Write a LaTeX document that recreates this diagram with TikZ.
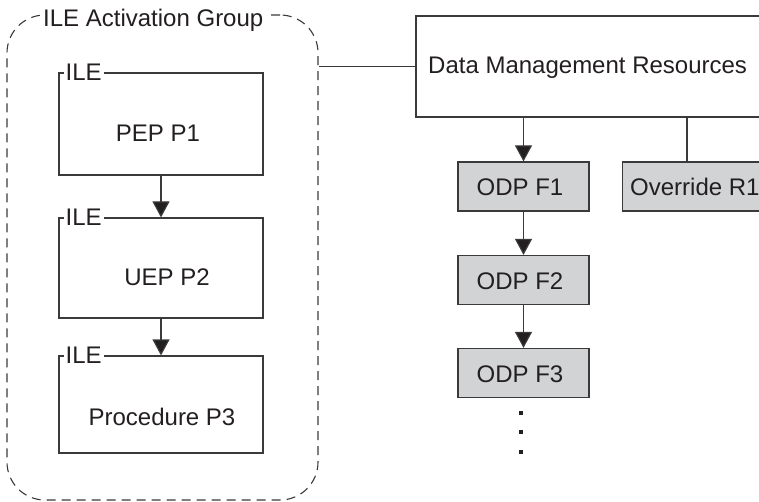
\documentclass[tikz,border=0pt]{standalone}
\usepackage{fontspec}
\setmainfont{Liberation Sans}
\usetikzlibrary{arrows.meta}
\definecolor{ink}{HTML}{231F20}
\definecolor{linec}{HTML}{3A3A3A}
\definecolor{boxfill}{HTML}{D1D3D4}
\tikzset{
  lbl/.style={font=\fontsize{24}{28}\selectfont, text=ink, inner sep=0pt},
  ilebox/.style={draw=linec, line width=1.2pt, minimum width=204pt, inner sep=0pt},
  ilelbl/.style={lbl, fill=white, inner xsep=2pt, inner ysep=1pt, anchor=west},
  odpbox/.style={draw=linec, line width=1.2pt, fill=boxfill, minimum width=131pt, minimum height=49pt, inner sep=0pt},
  arr/.style={draw=linec, line width=1.2pt, -{Triangle[length=16pt,width=17pt,fill=ink]}},
  conn/.style={draw=linec, line width=1.2pt},
}
\begin{document}
\begin{tikzpicture}[x=1pt,y=1pt]
\useasboundingbox (0,0) rectangle (759,-502);
\clip (0,0) rectangle (759,-502);
% activation group
\node[draw=linec, line width=1.1pt, dash pattern=on 9pt off 6pt, rounded corners=38pt,
      minimum width=311pt, minimum height=485pt, inner sep=0pt] (grp) at (162.5,-257.5) {};
\node[lbl, fill=white, inner xsep=3pt, inner ysep=2pt, anchor=west] (grpt) at (40,-20) {ILE Activation Group};
% ILE boxes
\node[ilebox, minimum height=102pt] (b1) at (161,-124) {};
\node[ilebox, minimum height=100pt] (b2) at (161,-268) {};
\node[ilebox, minimum height=97pt] (b3) at (161,-404.5) {};
\node[ilelbl] (l1) at (b1.north west) [xshift=5pt] {ILE};
\node[ilelbl] (l2) at (b2.north west) [xshift=5pt] {ILE};
\node[ilelbl] (l3) at (b3.north west) [xshift=5pt] {ILE};
\node[lbl] (t1) at (158,-133) {PEP P1};
\node[lbl] (t2) at (167,-277) {UEP P2};
\node[lbl] (t3) at (162,-417) {Procedure P3};
\draw[arr] (b1.south) -- (b2.north);
\draw[arr] (b2.south) -- (b3.north);
% data management resources
\node[draw=linec, line width=1.2pt, minimum width=400pt, minimum height=101pt, inner sep=0pt] (dmr) at (616,-66.5) {};
\node[lbl, anchor=west] (dmrt) at (428,-68) {Data Management Resources};
\draw[conn] (grp.east |- dmr.west) -- (dmr.west);
% ODP boxes
\node[odpbox] (f1) at (523.5,-186.5) {};
\node[odpbox] (f2) at (523.5,-280) {};
\node[odpbox] (f3) at (523.5,-373) {};
\node[lbl] (f1t) at (520,-187) {ODP F1};
\node[lbl] (f2t) at (520,-281) {ODP F2};
\node[lbl] (f3t) at (520,-374) {ODP F3};
\node[odpbox, minimum width=200pt, anchor=west] (ovr) at (622,-186.5) {};
\node[lbl, anchor=west] (ovrt) at (630,-187) {Override R1};
\draw[arr] (f1.north |- dmr.south) -- (f1.north);
\draw[arr] (f1.south) -- (f2.north);
\draw[arr] (f2.south) -- (f3.north);
\coordinate (ovrx) at (687,-117);
\draw[conn] (ovrx) -- (ovrx |- ovr.north);
% vertical ellipsis
\foreach \yy in {413,432,452}{
  \fill[ink] (519,-\yy+2) rectangle (523,-\yy-2);
}
\end{tikzpicture}
\end{document}
